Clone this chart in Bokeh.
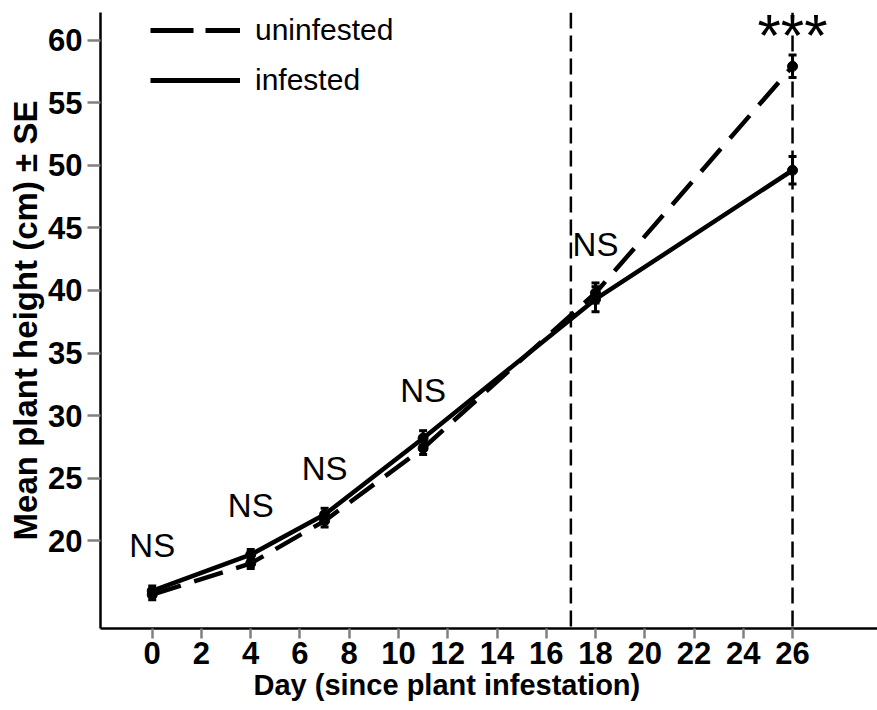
from bokeh.plotting import figure
from bokeh.models import (Range1d, FixedTicker, Span, Legend, LegendItem,
                          ColumnDataSource, Title)
from bokeh.core.properties import value
from bokeh.embed import file_html
from bokeh.resources import INLINE

# ---- data ----
days = [0, 4, 7, 11, 18, 26]
uninfested = [15.7, 18.2, 21.6, 27.4, 39.8, 57.9]
uninfested_se = [0.4, 0.4, 0.5, 0.5, 0.8, 0.9]
infested = [16.0, 18.9, 22.1, 28.2, 39.3, 49.6]
infested_se = [0.4, 0.4, 0.5, 0.6, 1.0, 1.1]

x_ticks = [0, 2, 4, 6, 8, 10, 12, 14, 16, 18, 20, 22, 24, 26]
y_ticks = [20, 25, 30, 35, 40, 45, 50, 55, 60]

ns_days = [0, 4, 7, 11, 18]
ns_text = ["NS", "NS", "NS", "NS", "NS"]
ns_y = [19.6, 22.8, 25.8, 32.0, 43.7]
sig_day = [26]
sig_text = ["***"]
sig_y = [60.4]

period_lines = [17, 26]

FONT = "Liberation Sans"
NAN = float("nan")

X0, X1 = -2.1, 29.45
Y0, Y1 = 13.0, 62.2

p = figure(width=877, height=710, output_backend="svg", toolbar_location=None,
           x_range=Range1d(X0, X1), y_range=Range1d(Y0, Y1),
           min_border_left=100, min_border_right=0, min_border_top=12,
           min_border_bottom=82)
p.grid.visible = False
p.outline_line_color = None
p.background_fill_color = "white"
p.border_fill_color = "white"

for ax in (p.xaxis[0], p.yaxis[0]):
    ax.axis_line_color = "black"
    ax.axis_line_width = 2.5
    ax.major_tick_line_color = "#808080"
    ax.major_tick_line_width = 2.5
    ax.major_tick_in = 0
    ax.minor_tick_line_color = None
    ax.major_label_text_font = FONT
    ax.major_label_text_font_style = "bold"
    ax.major_label_text_font_size = "31px"
    ax.major_label_text_color = "black"

p.xaxis.ticker = FixedTicker(ticks=x_ticks)
p.yaxis.ticker = FixedTicker(ticks=y_ticks)
p.xaxis.major_tick_out = 10
p.yaxis.major_tick_out = 13
p.xaxis.major_label_standoff = 3
p.yaxis.major_label_standoff = 5

p.yaxis.axis_label = "Mean plant height (cm) \u00b1 SE"
p.yaxis.axis_label_text_font = FONT
p.yaxis.axis_label_text_font_style = "bold"
p.yaxis.axis_label_text_font_size = "33px"
p.yaxis.axis_label_standoff = 1
p.yaxis.axis_label_text_color = "black"

# x-axis title, placed under the 0..26 part of the axis as in the reference
p.add_layout(Title(text="Day (since plant infestation)", align="left",
                   offset=153, standoff=0, text_font=FONT,
                   text_font_style="bold", text_font_size="29px",
                   text_color="black"), "below")

# vertical dashed lines
for d in period_lines:
    p.add_layout(Span(location=d, dimension="height", line_color="black",
                      line_width=2.5, line_dash="16 7"))

src_u = ColumnDataSource(dict(x=days, y=uninfested,
                              lo=[v - s for v, s in zip(uninfested, uninfested_se)],
                              hi=[v + s for v, s in zip(uninfested, uninfested_se)]))
src_i = ColumnDataSource(dict(x=days, y=infested,
                              lo=[v - s for v, s in zip(infested, infested_se)],
                              hi=[v + s for v, s in zip(infested, infested_se)]))

for src, dash in ((src_u, "30 14"), (src_i, "solid")):
    p.segment(x0="x", y0="lo", x1="x", y1="hi", source=src,
              line_color="black", line_width=3)
    p.scatter(x="x", y="lo", source=src, marker="dash", size=8,
              line_color="black", line_width=3)
    p.scatter(x="x", y="hi", source=src, marker="dash", size=8,
              line_color="black", line_width=3)
    p.line(x="x", y="y", source=src, line_color="black", line_width=4.5,
           line_dash=dash)
    p.scatter(x="x", y="y", source=src, marker="circle", size=10,
              fill_color="black", line_color="black")

# significance annotations
p.text(x=ns_days, y=ns_y, text=ns_text, text_align="center",
       text_baseline="middle", text_font=value(FONT), text_font_size="33px",
       text_color="black")
p.text(x=sig_day, y=sig_y, text=sig_text, text_align="center",
       text_baseline="middle", text_font=value(FONT), text_font_size="60px",
       text_color="black")

# legend (glyph-only renderers holding no visible point)
r_leg_u = p.line([NAN], [NAN], line_color="black", line_width=5, line_dash="43 12")
r_leg_i = p.line([NAN], [NAN], line_color="black", line_width=5)
legend = Legend(items=[LegendItem(label="uninfested", renderers=[r_leg_u]),
                       LegendItem(label="infested", renderers=[r_leg_i])],
                location=(50, 531), glyph_width=90, glyph_height=34,
                label_height=34, spacing=16, padding=0, margin=0,
                label_standoff=15, label_text_font=FONT,
                label_text_font_size="30px", label_text_color="black",
                border_line_color=None, background_fill_alpha=0)
p.add_layout(legend)

open("out.html", "w").write(file_html(p, INLINE))
